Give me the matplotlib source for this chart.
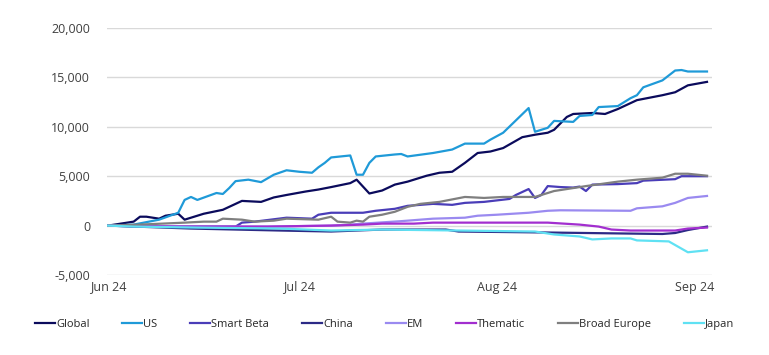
import matplotlib
matplotlib.use("Agg")
import matplotlib.pyplot as plt
import matplotlib.ticker as mticker
import pandas as pd

#===========data===========
# cumulative flows, x given as days after 24 Jun 2024
start = pd.Timestamp("2024-06-24")

global_days = [0, 4, 5, 6, 8, 9, 11, 12, 13, 15, 18, 19, 21, 24, 26, 28, 31, 33, 35, 38, 39, 40, 41, 43, 45, 47, 50, 52, 54, 56, 58, 60, 62, 65, 67, 69, 70, 72, 73, 76, 78, 80, 83, 87, 89, 91, 94]
global_vals = [0, 400, 900, 900, 700, 1000, 1200, 600, 800, 1200, 1600, 1900, 2500, 2400, 2850, 3100, 3450, 3650, 3900, 4300, 4650, 3950, 3250, 3550, 4150, 4450, 5050, 5350, 5450, 6350, 7350, 7500, 7850, 8950, 9200, 9400, 9700, 11000, 11300, 11400, 11300, 11800, 12700, 13200, 13500, 14200, 14550]

us_days = [0, 4, 8, 11, 12, 13, 14, 17, 18, 19, 20, 22, 24, 26, 28, 30, 32, 33, 34, 35, 38, 39, 40, 41, 42, 45, 46, 47, 51, 54, 56, 59, 60, 62, 66, 67, 69, 70, 73, 74, 76, 77, 80, 82, 83, 84, 87, 89, 90, 91, 94]
us_vals = [0, 100, 600, 1300, 2600, 2900, 2600, 3300, 3200, 3800, 4500, 4650, 4400, 5150, 5600, 5450, 5350, 5900, 6350, 6900, 7100, 5150, 5150, 6350, 7000, 7200, 7250, 7000, 7350, 7700, 8300, 8300, 8700, 9400, 11900, 9500, 9900, 10600, 10500, 11100, 11200, 12000, 12100, 12900, 13200, 14000, 14700, 15700, 15750, 15600, 15600]

smart_beta_days = [0, 5, 15, 20, 21, 23, 28, 32, 33, 35, 40, 42, 45, 47, 49, 51, 54, 56, 59, 63, 64, 66, 67, 68, 69, 71, 73, 74, 75, 76, 80, 83, 84, 89, 90, 94]
smart_beta_vals = [0, -100, -100, -100, 300, 400, 800, 700, 1100, 1300, 1300, 1500, 1700, 2000, 2100, 2200, 2100, 2300, 2400, 2700, 3100, 3700, 2800, 3100, 4000, 3900, 3850, 3950, 3500, 4150, 4200, 4300, 4550, 4700, 5000, 5000]

china_days = [0, 13, 27, 35, 43, 53, 55, 69, 87, 89, 91, 94]
china_vals = [0, -300, -500, -600, -400, -400, -600, -700, -850, -750, -450, -100]

em_days = [0, 15, 25, 35, 38, 40, 46, 51, 56, 58, 61, 66, 69, 71, 82, 83, 87, 89, 91, 94]
em_vals = [0, -100, -100, 0, 100, 200, 450, 700, 800, 1000, 1100, 1300, 1500, 1550, 1500, 1750, 1950, 2300, 2800, 3000]

thematic_days = [0, 10, 25, 35, 40, 43, 48, 51, 69, 74, 77, 79, 82, 89, 91, 94]
thematic_vals = [0, -100, -100, 0, 100, 200, 200, 300, 300, 100, -100, -400, -500, -500, -300, -200]

europe_days = [0, 5, 12, 15, 17, 18, 21, 23, 26, 28, 33, 35, 36, 38, 39, 40, 41, 43, 45, 47, 49, 52, 56, 59, 62, 67, 69, 70, 75, 80, 83, 87, 89, 91, 94]
europe_vals = [0, 100, 300, 400, 400, 700, 600, 400, 500, 700, 600, 900, 400, 300, 500, 400, 900, 1100, 1400, 1900, 2200, 2400, 2900, 2800, 2900, 2900, 3300, 3500, 4000, 4450, 4650, 4850, 5250, 5250, 5050]

japan_days = [0, 4, 14, 27, 35, 43, 67, 70, 74, 76, 79, 82, 83, 88, 91, 94]
japan_vals = [0, -100, -200, -300, -500, -400, -600, -900, -1100, -1400, -1300, -1300, -1500, -1600, -2700, -2500]

series = [
  ("Global", global_days, global_vals, "#0b0b5c"),
  ("US", us_days, us_vals, "#1f9ad8"),
  ("Smart Beta", smart_beta_days, smart_beta_vals, "#4a3db8"),
  ("China", china_days, china_vals, "#2c2a86"),
  ("EM", em_days, em_vals, "#9a8af0"),
  ("Thematic", thematic_days, thematic_vals, "#a22ecf"),
  ("Broad Europe", europe_days, europe_vals, "#7f7f7f"),
  ("Japan", japan_days, japan_vals, "#5fe1f3"),
]

tick_dates = ["2024-06-24", "2024-07-24", "2024-08-24", "2024-09-24"]
tick_labels = ["Jun 24", "Jul 24", "Aug 24", "Sep 24"]

#===========plot===========
plt.rcParams['font.family'] = ['Open Sans', 'DejaVu Sans']

fig = plt.figure(figsize=(7.69, 3.55), dpi=100)
ax = fig.add_axes([0.139, 0.2254, 0.787, 0.6956])

for name, days, vals, color in series:
  x = [start + pd.Timedelta(days=d) for d in days]
  ax.plot(x, vals, color=color, lw=1.6, label=name)

ax.set_ylim(-5000, 20000)
ax.set_yticks(range(-5000, 20001, 5000))
ax.yaxis.set_major_formatter(mticker.FuncFormatter(lambda v, p: f"{int(v):,}"))
ax.set_xlim(start - pd.Timedelta(days=0.2), start + pd.Timedelta(days=94.8))
ax.set_xticks([pd.Timestamp(d) for d in tick_dates])
ax.set_xticklabels(tick_labels)

ax.grid(axis='y', color='#d9d9d9', lw=1)
ax.set_axisbelow(True)
for s in ax.spines.values():
  s.set_visible(False)
ax.tick_params(length=0, labelsize=9, colors='#404040', pad=12)
ax.tick_params(axis='x', pad=4)

fig.legend(loc='center', bbox_to_anchor=(0.5, 0.085), ncol=8, frameon=False,
           prop={'size': 8}, handlelength=1.8, handletextpad=0.1,
           columnspacing=2.95, labelcolor='#262626')

plt.savefig("out.png", dpi=100)
